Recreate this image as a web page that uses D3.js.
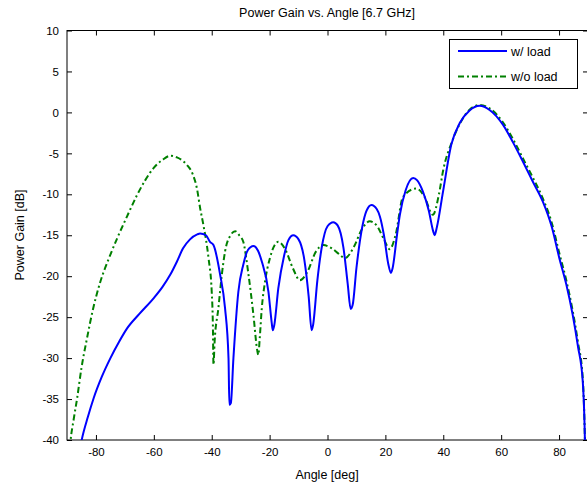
<!DOCTYPE html>
<html>
<head>
<meta charset="utf-8">
<script src="https://cdn.jsdelivr.net/npm/d3@7"></script>
<style>
  body { margin: 0; background: #fff; }
  svg { display: block; font-family: "Liberation Sans", Arial, sans-serif; }
</style>
</head>
<body>
<svg id="chart" width="587" height="488"></svg>
<script>
// angle [deg] and power gain [dB]
const withLoadAngle = [-85.5,-84.8,-82.8,-80.8,-78,-75,-72,-69.3,-65,-60.1,-57,-54.3,-52,-49.9,-47.5,-45,-44,-42,-40.6,-39.4,-37.1,-35.4,-34.2,-33.9,-33.4,-32.5,-30.8,-29.1,-27.5,-25.6,-24,-22.7,-20.4,-19.3,-18.9,-18.4,-17,-15,-13.5,-11.8,-10,-8,-6.5,-5.5,-5,-3.5,-2,0,2,3.5,5.5,7,8,8.7,10,12,13.5,15.2,17,18.1,19.5,21,21.9,22.5,24,25,27,29.6,31,33,35,36.5,37,37.8,39.9,42.8,45.7,49,52.6,56,60.6,64,67.5,71,74.4,77.5,80.1,82.5,84.7,86.5,88.2,88.8,89];
const withLoadGain = [-41,-39.8,-37.2,-34.9,-32.3,-30,-28,-26.4,-24.6,-22.7,-21.3,-19.8,-18.2,-16.6,-15.5,-14.9,-14.8,-15,-15.8,-16.2,-19.8,-23.9,-30,-35.7,-35.5,-30,-21.9,-18.6,-16.8,-16.3,-16.9,-18.2,-21.9,-25.6,-26.6,-26,-21.5,-17.5,-15.6,-15,-15.5,-18,-22.5,-26.6,-26,-20.5,-16.5,-13.9,-13.4,-13.8,-16.5,-21,-24,-23.5,-19,-14,-12,-11.3,-11.8,-12.7,-15,-18.5,-19.6,-19,-15,-12.5,-9.5,-8,-8.3,-9.7,-12,-14.5,-15,-14,-9.7,-3.9,-1.3,0.2,0.8,0.3,-1.5,-3.6,-6,-8.5,-10.9,-14,-17.8,-21,-24.7,-28.5,-32.9,-38,-41];

const noLoadAngle = [-89,-88.8,-87.7,-86.5,-85,-83.1,-81,-78.5,-75.5,-72.7,-69,-65.8,-63,-60.1,-57,-54.3,-52,-48.6,-46.5,-45.1,-44,-42.9,-41.1,-40,-39.6,-39.4,-39,-37.7,-36.5,-35.4,-33.5,-31.9,-30.5,-29.1,-27.3,-25.6,-24.3,-23.9,-23.4,-22.7,-21.6,-19.9,-17,-14.5,-12,-9.5,-7,-4,-1.5,1.5,4,6,9,12,14.6,17,19.5,21.5,23.5,26.1,30.7,33.5,36.4,38.5,40,43,46,49,52.6,56,60.6,64,67.5,71,74.4,77.5,80.1,82.5,84.7,86.5,88.2,88.8,89];
const noLoadGain = [-41,-40.2,-37.5,-34.9,-31.2,-27.6,-24,-20.7,-17.8,-15.4,-12.5,-10.1,-8.3,-6.8,-5.8,-5.3,-5.5,-6.4,-7.6,-9.3,-11.7,-13.7,-17.8,-21.9,-26,-30.8,-28,-23.9,-19.8,-17,-15,-14.5,-15,-15.8,-19.8,-24.7,-29,-29.6,-27.5,-23.9,-20.7,-17.8,-15.8,-16.8,-19,-20.5,-19.5,-17,-16.2,-16.6,-17.3,-17.8,-16.5,-14.2,-13.3,-13.8,-15.5,-16.7,-15,-10.3,-9.3,-10.3,-12.5,-10,-7,-3.6,-1.2,0.3,0.9,0.5,-1.2,-3.2,-5.6,-8,-10.5,-13.5,-17.2,-20.5,-24.2,-28,-32.5,-38,-41];

const xTicks = [-80,-60,-40,-20,0,20,40,60,80];
const yTicks = [-40,-35,-30,-25,-20,-15,-10,-5,0,5,10];
const seriesNames = ["w/ load", "w/o load"];

const mLeft = 67, mRight = 588, mTop = 30.5, mBottom = 440;
const svg = d3.select('#chart');

const x = d3.scaleLinear().domain([-90, 90]).range([mLeft, mRight]);
const y = d3.scaleLinear().domain([-40, 10]).range([mBottom, mTop]);

// clip to plot box
svg.append('clipPath').attr('id', 'clip')
  .append('rect').attr('x', mLeft).attr('y', mTop)
  .attr('width', mRight - mLeft).attr('height', mBottom - mTop);

// axes, ticks point inward like matlab, plain hyphen for negatives
const fmt = d => String(d);
const axisStyle = g => {
  g.select('.domain').remove();
  g.selectAll('text').attr('font-size', 11.5).attr('fill', '#000')
    .attr('font-family', '"Liberation Sans", Arial, sans-serif');
  g.selectAll('line').attr('stroke', '#000');
};
svg.append('g').attr('transform', `translate(0,${mBottom})`)
  .call(d3.axisBottom(x).tickValues(xTicks).tickSizeInner(-5).tickSizeOuter(0).tickPadding(8).tickFormat(fmt))
  .call(axisStyle);
svg.append('g').attr('transform', `translate(0,${mTop})`)
  .call(d3.axisTop(x).tickValues(xTicks).tickSizeInner(-5).tickSizeOuter(0).tickFormat(''))
  .call(axisStyle);
svg.append('g').attr('transform', `translate(${mLeft},0)`)
  .call(d3.axisLeft(y).tickValues(yTicks).tickSizeInner(-5).tickSizeOuter(0).tickPadding(8).tickFormat(fmt))
  .call(axisStyle);
svg.append('g').attr('transform', `translate(${mRight},0)`)
  .call(d3.axisRight(y).tickValues(yTicks).tickSizeInner(-5).tickSizeOuter(0).tickFormat(''))
  .call(axisStyle);

svg.append('rect').attr('x', mLeft).attr('y', mTop)
  .attr('width', mRight - mLeft).attr('height', mBottom - mTop)
  .attr('fill', 'none').attr('stroke', '#000').attr('stroke-width', 1);

// curves
const line = d3.line().x(d => x(d[0])).y(d => y(d[1])).curve(d3.curveMonotoneX);
const plot = svg.append('g').attr('clip-path', 'url(#clip)');

plot.append('path')
  .datum(d3.zip(noLoadAngle, noLoadGain))
  .attr('d', line).attr('fill', 'none')
  .attr('stroke', '#008000').attr('stroke-width', 2)
  .attr('stroke-dasharray', '6,3,2,3');

plot.append('path')
  .datum(d3.zip(withLoadAngle, withLoadGain))
  .attr('d', line).attr('fill', 'none')
  .attr('stroke', '#0000ff').attr('stroke-width', 2);

// labels
svg.append('text').attr('x', 327).attr('y', 17).attr('text-anchor', 'middle')
  .attr('font-size', 12.5).text('Power Gain vs. Angle [6.7 GHz]');
svg.append('text').attr('x', 327).attr('y', 479).attr('text-anchor', 'middle')
  .attr('font-size', 12.5).text('Angle [deg]');
svg.append('text').attr('transform', 'translate(24,235) rotate(-90)')
  .attr('text-anchor', 'middle').attr('font-size', 12.5).text('Power Gain [dB]');

// legend
const lg = svg.append('g');
lg.append('rect').attr('x', 449.5).attr('y', 39.5).attr('width', 128).attr('height', 49)
  .attr('fill', '#fff').attr('stroke', '#000');
const legColors = ['#0000ff', '#008000'];
const legDash = [null, '6,3,2,3'];
seriesNames.forEach((name, i) => {
  const yy = 51 + i * 25.5;
  lg.append('line').attr('x1', 458).attr('x2', 507).attr('y1', yy).attr('y2', yy)
    .attr('stroke', legColors[i]).attr('stroke-width', 2)
    .attr('stroke-dasharray', legDash[i]);
  lg.append('text').attr('x', 511).attr('y', yy + 4.5).attr('font-size', 12.5).text(name);
});
</script>
</body>
</html>
